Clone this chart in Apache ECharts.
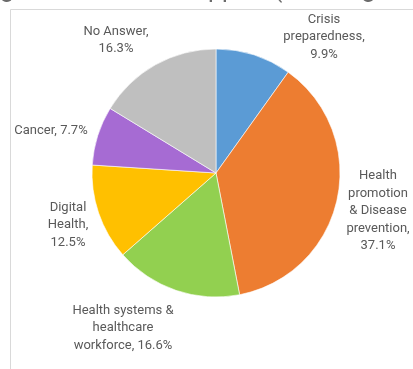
<!DOCTYPE html>
<html>
<head>
<meta charset="utf-8">
<script src="https://cdn.jsdelivr.net/npm/echarts@6/dist/echarts.min.js"></script>
<style>
  html, body { margin: 0; padding: 0; background: #fff; }
  #chart { width: 413px; height: 369px; }
</style>
</head>
<body>
<div id="chart"></div>
<script>
// Share of support by area (%), clockwise from 12 o'clock
const categories = [
  'Crisis preparedness',
  'Health promotion & Disease prevention',
  'Health systems & healthcare workforce',
  'Digital Health',
  'Cancer',
  'No Answer'
];
const shares = [9.9, 37.1, 16.6, 12.5, 7.7, 16.3];
const labelTexts = [
  'Crisis\npreparedness,\n9.9%',
  'Health\npromotion\n& Disease\nprevention,\n37.1%',
  'Health systems &\nhealthcare\nworkforce, 16.6%',
  'Digital\nHealth,\n12.5%',
  'Cancer, 7.7%',
  'No Answer,\n16.3%'
];
const colors = ['#5B9BD5', '#ED7D31', '#92D050', '#FFC000', '#A66BD3', '#BFBFBF'];

// label anchor points (centre of each text block)
const labelAnchors = [
  [324, 37], [378, 211], [123, 328], [68, 225], [51, 131], [116, 40]
];

const chart = echarts.init(document.getElementById('chart'), null, { renderer: 'canvas' });

chart.setOption({
  animation: false,
  backgroundColor: '#ffffff',
  textStyle: { fontFamily: 'Roboto, "Liberation Sans", sans-serif' },
  graphic: [
    {
      type: 'rect',
      silent: true,
      shape: { x: 10.5, y: 9.5, width: 420, height: 400 },
      style: { fill: 'none', stroke: '#D9D9D9', lineWidth: 1 }
    },
    {
      type: 'text',
      silent: true,
      x: -20,
      y: -9,
      style: {
        text: 'Figure 7: Areas of support (% of eligible countries),',
        fontSize: 25,
        fontFamily: 'Roboto, sans-serif',
        fill: '#6b6b6b',
        verticalAlign: 'middle'
      }
    }
  ],
  series: [{
    type: 'pie',
    center: [216, 173],
    radius: [0, 124],
    startAngle: 90,
    clockwise: true,
    avoidLabelOverlap: false,
    itemStyle: { borderColor: '#ffffff', borderWidth: 0.6 },
    label: {
      show: true,
      position: 'outside',
      color: '#595959',
      fontSize: 13,
      lineHeight: 17.5,
      align: 'center',
      formatter: p => labelTexts[p.dataIndex]
    },
    labelLine: { show: false },
    labelLayout: p => ({
      x: labelAnchors[p.dataIndex][0],
      y: labelAnchors[p.dataIndex][1],
      align: 'center',
      verticalAlign: 'middle'
    }),
    emphasis: { disabled: true },
    data: categories.map((name, i) => ({
      name,
      value: shares[i],
      itemStyle: { color: colors[i] }
    }))
  }]
});
</script>
</body>
</html>
